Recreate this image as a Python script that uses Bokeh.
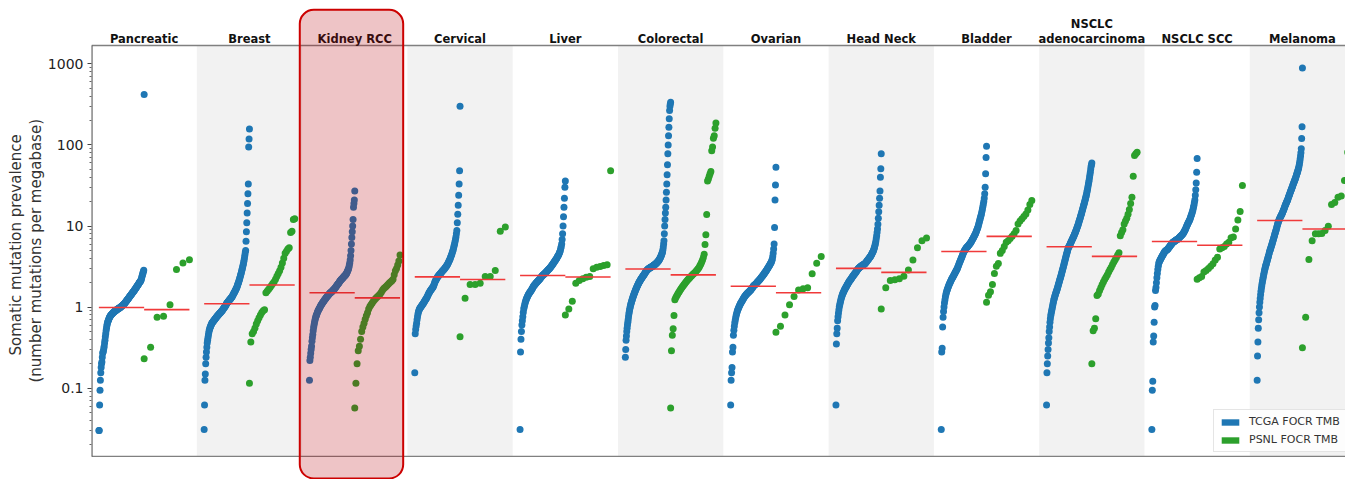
from bokeh.plotting import figure
from bokeh.models import (Range1d, FixedTicker, BoxAnnotation, Legend, LegendItem,
                          ColumnDataSource, CustomJSTickFormatter, Title)
from bokeh.core.properties import value
from bokeh.embed import file_html
from bokeh.resources import INLINE

categories = ["Pancreatic", "Breast", "Kidney RCC", "Cervical", "Liver", "Colorectal",
              "Ovarian", "Head Neck", "Bladder", "NSCLC\nadenocarcinoma", "NSCLC SCC", "Melanoma"]
highlight = "Kidney RCC"

tcga_pancreatic = [0.03, 0.03, 0.062, 0.094, 0.125, 0.155, 0.18, 0.2, 0.21, 0.24,
    0.27, 0.28, 0.29, 0.31, 0.33, 0.36, 0.39, 0.43, 0.47, 0.51,
    0.55, 0.59, 0.62, 0.65, 0.67, 0.69, 0.71, 0.73, 0.75, 0.76,
    0.78, 0.79, 0.80, 0.81, 0.82, 0.83, 0.84, 0.85, 0.86, 0.87,
    0.87, 0.88, 0.89, 0.90, 0.91, 0.91, 0.92, 0.93, 0.94, 0.94,
    0.95, 0.96, 0.96, 0.97, 0.98, 0.98, 0.99, 1.0, 1.01, 1.02,
    1.03, 1.04, 1.05, 1.06, 1.07, 1.08, 1.09, 1.10, 1.12, 1.13,
    1.15, 1.17, 1.18, 1.20, 1.22, 1.24, 1.25, 1.27, 1.29, 1.31,
    1.33, 1.35, 1.37, 1.39, 1.41, 1.43, 1.45, 1.47, 1.49, 1.52,
    1.54, 1.56, 1.58, 1.61, 1.63, 1.66, 1.68, 1.71, 1.74, 1.77,
    1.80, 1.83, 1.86, 1.89, 1.92, 1.95, 1.99, 2.02, 2.05, 2.09,
    2.12, 2.16, 2.25, 2.35, 2.45, 2.55, 2.65, 2.75, 2.85, 418]
psnl_pancreatic = [0.23, 0.32, 0.75, 0.77, 1.07, 2.9, 3.5, 3.85]

tcga_breast = [0.031, 0.062, 0.125, 0.15, 0.2, 0.24, 0.28, 0.32, 0.36, 0.39,
    0.42, 0.45, 0.48, 0.51, 0.53, 0.55, 0.57, 0.58, 0.60, 0.61,
    0.63, 0.64, 0.65, 0.66, 0.67, 0.68, 0.69, 0.70, 0.71, 0.72,
    0.73, 0.74, 0.75, 0.76, 0.77, 0.78, 0.79, 0.80, 0.81,
    0.82, 0.83, 0.84, 0.85, 0.86, 0.87, 0.88, 0.89, 0.90, 0.92,
    0.93, 0.95, 0.96, 0.98, 0.99, 1.01, 1.02, 1.04, 1.06, 1.08,
    1.11, 1.12, 1.14, 1.15, 1.17, 1.18, 1.20, 1.22, 1.23, 1.25,
    1.27, 1.28, 1.30, 1.32, 1.33, 1.36, 1.39, 1.42, 1.45, 1.48,
    1.51, 1.54, 1.57, 1.61, 1.64, 1.68, 1.72, 1.76, 1.82, 1.88,
    1.94, 2.0, 2.07, 2.14, 2.22, 2.3, 2.4, 2.5, 2.6, 2.7,
    2.85, 2.95, 3.1, 3.25, 3.4, 3.6, 3.8, 4.1, 4.4, 4.7,
    5.0, 6.5, 8.5, 11, 14.5, 19, 25, 33, 94, 118, 157]
psnl_breast = [0.115, 0.37, 0.47, 0.5, 0.55, 0.62, 0.68, 0.74, 0.8, 0.86,
    0.9, 0.93, 1.5, 1.58, 1.66, 1.75, 1.85, 1.95, 2.05, 2.2,
    2.4, 2.6, 2.8, 3.1, 3.5, 4.0, 4.6, 4.9, 5.2, 5.4,
    8.3, 8.6, 12, 12.3]

tcga_kidney = [0.125, 0.22, 0.24, 0.27, 0.30, 0.33, 0.38, 0.42, 0.46, 0.51,
    0.56, 0.60, 0.64, 0.68, 0.72, 0.75, 0.78, 0.80, 0.83, 0.86,
    0.88, 0.91, 0.93, 0.95, 0.97, 0.99, 1.02, 1.04, 1.06, 1.08,
    1.10, 1.12, 1.14, 1.16, 1.18, 1.20, 1.22, 1.24, 1.26, 1.28,
    1.30, 1.32, 1.34, 1.36, 1.38, 1.40, 1.42, 1.44, 1.46, 1.48,
    1.50, 1.51, 1.52, 1.54, 1.56, 1.58, 1.60, 1.62, 1.64, 1.66,
    1.68, 1.70, 1.73, 1.76, 1.79, 1.82, 1.85, 1.88, 1.91, 1.94,
    1.97, 2.0, 2.04, 2.08, 2.12, 2.15, 2.18, 2.20, 2.23, 2.26,
    2.29, 2.32, 2.35, 2.38, 2.41, 2.44, 2.47, 2.5, 2.55, 2.6,
    2.66, 2.72, 2.8, 2.88, 2.97, 3.1, 3.3, 3.5, 3.8, 4.3,
    5.0, 6.0, 7.2, 8.5, 10, 12, 17, 19, 21, 27]
psnl_kidney = [0.057, 0.115, 0.2, 0.29, 0.33, 0.4, 0.5, 0.57, 0.63, 0.71,
    0.78, 0.85, 0.95, 1.02, 1.07, 1.12, 1.18, 1.23, 1.28, 1.32,
    1.36, 1.41, 1.46, 1.54, 1.62, 1.69, 1.74, 1.8, 1.86, 1.93,
    2.0, 2.05, 2.12, 2.2, 2.5, 2.8, 3.0, 3.3, 3.7, 4.4]

tcga_cervical = [0.155, 0.47, 0.53, 0.58, 0.63, 0.7, 0.76, 0.82, 0.87, 0.91,
    0.94, 0.96, 0.98, 1.0, 1.02, 1.04, 1.06, 1.08, 1.1, 1.12,
    1.14, 1.17, 1.2, 1.22, 1.25, 1.27, 1.3, 1.33, 1.37, 1.41,
    1.45, 1.49, 1.53, 1.56, 1.59, 1.62, 1.65, 1.68, 1.71, 1.74,
    1.77, 1.82, 1.88, 1.96, 2.04, 2.1, 2.15, 2.2, 2.25, 2.3,
    2.37, 2.4, 2.44, 2.48, 2.52, 2.56, 2.6, 2.64, 2.68, 2.72,
    2.76, 2.8, 2.84, 2.88, 2.93, 2.98, 3.03, 3.08, 3.14, 3.2,
    3.26, 3.33, 3.4, 3.5, 3.6, 3.7, 3.8, 3.9, 4.05, 4.2,
    4.35, 4.5, 4.7, 4.9, 5.1, 5.4, 5.7, 6.0, 6.4, 6.8,
    7.3, 8.0, 8.8, 11, 14, 18, 24, 33, 48, 300]
psnl_cervical = [0.43, 1.29, 1.9, 1.9, 1.97, 2.38, 2.38, 2.83, 8.6, 9.7]

tcga_liver = [0.031, 0.28, 0.4, 0.5, 0.6, 0.68, 0.76, 0.86, 0.95, 1.0,
    1.06, 1.12, 1.17, 1.22, 1.27, 1.3, 1.34, 1.38, 1.42, 1.45,
    1.48, 1.51, 1.54, 1.57, 1.6, 1.63, 1.67, 1.71, 1.75, 1.79,
    1.83, 1.86, 1.89, 1.92, 1.95, 1.98, 2.01, 2.04, 2.07, 2.1,
    2.13, 2.16, 2.19, 2.22, 2.26, 2.3, 2.34, 2.38, 2.42, 2.45,
    2.48, 2.51, 2.54, 2.57, 2.6, 2.63, 2.67, 2.7, 2.74, 2.78,
    2.82, 2.86, 2.9, 2.94, 2.98, 3.03, 3.08, 3.13, 3.18, 3.24,
    3.3, 3.36, 3.42, 3.49, 3.56, 3.63, 3.7, 3.77, 3.85, 3.93,
    4.0, 4.1, 4.2, 4.3, 4.4, 4.5, 4.65, 4.8, 5.0, 5.3,
    5.6, 6.0, 6.8, 8.0, 10, 13, 17, 22, 30, 36]
psnl_liver = [0.80, 0.95, 1.18, 1.97, 2.13, 2.23, 2.34, 2.38, 2.97, 3.1, 3.17, 3.26, 3.32, 48]

tcga_colorectal = [0.24, 0.3, 0.39, 0.44, 0.5, 0.55, 0.6, 0.65, 0.7, 0.76,
    0.82, 0.87, 0.92, 0.97, 1.02, 1.06, 1.1, 1.14, 1.18, 1.22,
    1.26, 1.3, 1.34, 1.38, 1.42, 1.46, 1.5, 1.54, 1.58, 1.62,
    1.66, 1.7, 1.74, 1.78, 1.82, 1.86, 1.9, 1.94, 1.98, 2.02,
    2.05, 2.09, 2.13, 2.16, 2.2, 2.23, 2.27, 2.3, 2.34, 2.37,
    2.41, 2.44, 2.48, 2.51, 2.55, 2.59, 2.63, 2.67, 2.72, 2.76,
    2.8, 2.83, 2.86, 2.89, 2.92, 2.95, 2.97, 2.99, 3.01, 3.03,
    3.05, 3.07, 3.09, 3.11, 3.13, 3.15, 3.17, 3.19, 3.21, 3.24,
    3.26, 3.28, 3.3, 3.33, 3.36, 3.38, 3.41, 3.44, 3.47, 3.5,
    3.54, 3.58, 3.62, 3.67, 3.71, 3.76, 3.8, 3.88, 3.96, 4.04,
    4.12, 4.2, 4.3, 4.42, 4.54, 4.67, 4.8, 5.1, 5.5, 6.0,
    6.6, 8, 10, 12, 14.5, 17, 21, 26, 33, 43,
    57, 78, 100, 130, 165, 210, 265, 300, 320, 335]
psnl_colorectal = [0.057, 0.29, 0.45, 0.54, 0.79, 1.23, 1.3, 1.36, 1.42, 1.48,
    1.54, 1.6, 1.66, 1.72, 1.78, 1.84, 1.9, 1.96, 2.02, 2.08,
    2.14, 2.2, 2.26, 2.32, 2.38, 2.44, 2.5, 2.56, 2.62, 2.68,
    2.75, 2.82, 2.9, 3.0, 3.1, 3.25, 3.4, 3.6, 3.8, 4.1,
    4.5, 5.9, 7.8, 13.9, 36, 38, 41, 44, 47, 85,
    94, 121, 130, 160, 187]

tcga_ovarian = [0.062, 0.125, 0.155, 0.18, 0.28, 0.32, 0.45, 0.52, 0.58, 0.64,
    0.69, 0.74, 0.79, 0.83, 0.87, 0.91, 0.94, 0.97, 1.0, 1.03,
    1.06, 1.09, 1.12, 1.14, 1.17, 1.19, 1.22, 1.25, 1.28, 1.31,
    1.33, 1.36, 1.38, 1.41, 1.43, 1.45, 1.47, 1.49, 1.51, 1.53,
    1.55, 1.57, 1.59, 1.61, 1.63, 1.66, 1.69, 1.72, 1.75, 1.79,
    1.83, 1.85, 1.87, 1.89, 1.91, 1.93, 1.96, 1.99, 2.02, 2.05,
    2.08, 2.11, 2.14, 2.17, 2.2, 2.24, 2.28, 2.32, 2.36, 2.4,
    2.44, 2.48, 2.52, 2.57, 2.62, 2.67, 2.72, 2.77, 2.83, 2.89,
    2.95, 3.01, 3.07, 3.14, 3.21, 3.28, 3.36, 3.44, 3.52, 3.6,
    3.75, 3.9, 4.2, 4.6, 5.2, 6.0, 9.6, 21, 32, 53]
psnl_ovarian = [0.49, 0.58, 0.8, 1.07, 1.35, 1.63, 1.68, 1.73, 2.57, 3.47, 4.2]

tcga_headneck = [0.062, 0.35, 0.47, 0.55, 0.68, 0.76, 0.84, 0.92, 1.0, 1.06,
    1.12, 1.18, 1.24, 1.3, 1.35, 1.4, 1.45, 1.49, 1.53, 1.57,
    1.61, 1.65, 1.69, 1.72, 1.76, 1.8, 1.84, 1.88, 1.92, 1.96,
    2.0, 2.04, 2.08, 2.12, 2.15, 2.18, 2.22, 2.26, 2.3, 2.34,
    2.38, 2.42, 2.46, 2.5, 2.54, 2.57, 2.61, 2.65, 2.7, 2.75,
    2.8, 2.85, 2.9, 2.95, 3.0, 3.03, 3.06, 3.09, 3.12, 3.15,
    3.18, 3.21, 3.24, 3.27, 3.3, 3.32, 3.34, 3.36, 3.38, 3.4,
    3.45, 3.5, 3.55, 3.6, 3.66, 3.72, 3.78, 3.84, 3.9, 3.96,
    4.02, 4.08, 4.14, 4.2, 4.3, 4.4, 4.5, 4.6, 4.7, 4.8,
    4.95, 5.1, 5.3, 5.5, 5.8, 6.1, 6.5, 7.0, 7.6, 8.3,
    9.2, 10.5, 12.5, 15, 18, 22, 27, 40, 51, 78]
psnl_headneck = [0.95, 1.73, 2.13, 2.17, 2.23, 2.4, 2.87, 3.8, 5.4, 6.6, 7.1]

tcga_bladder = [0.031, 0.28, 0.31, 0.57, 0.75, 0.88, 1.0, 1.12, 1.22, 1.33,
    1.42, 1.5, 1.57, 1.64, 1.7, 1.76, 1.82, 1.88, 1.94, 2.0,
    2.06, 2.12, 2.18, 2.24, 2.29, 2.34, 2.39, 2.45, 2.51, 2.57,
    2.63, 2.7, 2.77, 2.84, 2.91, 2.97, 3.1, 3.2, 3.3, 3.42,
    3.54, 3.66, 3.78, 3.9, 4.02, 4.15, 4.3, 4.45, 4.6, 4.75,
    4.9, 5.0, 5.1, 5.2, 5.3, 5.4, 5.5, 5.55, 5.6, 5.7,
    5.8, 5.9, 6.0, 6.1, 6.2, 6.35, 6.5, 6.65, 6.8, 6.95,
    7.1, 7.3, 7.5, 7.7, 7.9, 8.1, 8.4, 8.7, 9.0, 9.3,
    9.6, 10.1, 10.6, 11.1, 11.7, 12.3, 12.9, 13.5, 14.3, 15.2,
    16.2, 17.4, 18.7, 20, 22, 25, 30, 44, 70, 96]
psnl_bladder = [1.15, 1.4, 1.55, 1.9, 2.6, 3.2, 3.45, 4.6, 5.0, 5.6, 6.3, 6.6,
    7.0, 7.5, 8.0, 8.8, 10.6, 11.5, 12.3, 13.1, 14.1, 15.8, 18.4, 20.6]

tcga_nsclc_adeno = [0.062, 0.155, 0.2, 0.25, 0.3, 0.36, 0.42, 0.5, 0.57, 0.65,
    0.72, 0.78, 0.83, 0.88, 0.93, 0.98, 1.04, 1.1, 1.16, 1.22,
    1.27, 1.32, 1.37, 1.42, 1.47, 1.52, 1.57, 1.62, 1.67, 1.74,
    1.81, 1.88, 1.95, 2.03, 2.11, 2.19, 2.27, 2.35, 2.45, 2.55,
    2.65, 2.76, 2.88, 3.0, 3.13, 3.26, 3.4, 3.55, 3.7, 3.86,
    4.03, 4.2, 4.38, 4.57, 4.76, 4.95, 5.15, 5.35, 5.5, 5.6,
    5.7, 5.85, 6.0, 6.15, 6.3, 6.45, 6.6, 6.75, 6.9, 7.05,
    7.2, 7.4, 7.6, 7.8, 8.0, 8.2, 8.45, 8.7, 8.95, 9.2,
    9.5, 9.8, 10.1, 10.4, 10.8, 11.2, 11.6, 12.0, 12.4, 12.9,
    13.4, 13.9, 14.4, 15.0, 15.6, 16.2, 16.9, 17.6, 18.3, 19.0,
    19.8, 20.6, 21.5, 22.5, 23.5, 24.6, 26, 27.5, 29, 31,
    33, 35, 37, 40, 43, 46, 50, 54, 57, 60]
psnl_nsclc_adeno = [0.2, 0.51, 0.55, 0.72, 1.39, 1.45, 1.6, 1.75, 1.9, 2.05,
    2.2, 2.35, 2.5, 2.7, 2.9, 3.1, 3.35, 3.6, 3.85, 4.1,
    4.4, 4.67, 7.6, 8.3, 9.0, 10.6, 11.5, 12.5, 14, 16,
    19, 22.6, 41, 74, 78, 81]

tcga_nsclc_scc = [0.031, 0.094, 0.122, 0.37, 0.44, 0.65, 1.0, 1.05, 1.6, 1.75,
    2.0, 2.3, 2.6, 2.9, 3.2, 3.45, 3.6, 3.7, 3.8, 3.9,
    4.0, 4.1, 4.2, 4.3, 4.4, 4.5, 4.6, 4.7, 4.8, 4.9,
    4.95, 5.0, 5.05, 5.1, 5.15, 5.2, 5.3, 5.4, 5.5, 5.6,
    5.7, 5.8, 5.9, 6.0, 6.1, 6.2, 6.3, 6.35, 6.4, 6.45,
    6.55, 6.6, 6.65, 6.7, 6.75, 6.8, 6.85, 6.9, 7.0, 7.1,
    7.2, 7.3, 7.4, 7.5, 7.6, 7.7, 7.8, 7.9, 8.0, 8.2,
    8.4, 8.6, 8.8, 9.0, 9.3, 9.6, 9.9, 10.2, 10.5, 10.8,
    11.1, 11.4, 11.7, 12.0, 12.5, 13.0, 13.5, 14.0, 14.6, 15.2,
    16.0, 17.0, 18.0, 19.5, 21, 24, 28, 34, 46, 68]
psnl_nsclc_scc = [2.2, 2.3, 2.38, 2.7, 2.83, 3.0, 3.2, 3.42, 3.8, 4.13,
    5.2, 5.4, 5.6, 6.0, 6.3, 7.15, 7.3, 9.2, 11.9, 15.1, 31.6]

tcga_melanoma = [0.125, 0.25, 0.37, 0.55, 0.7, 0.85, 1.0, 1.15, 1.28, 1.42,
    1.57, 1.7, 1.82, 1.95, 2.08, 2.2, 2.34, 2.48, 2.62, 2.76,
    2.9, 3.04, 3.18, 3.3, 3.4, 3.55, 3.7, 3.85, 4.0, 4.15,
    4.3, 4.5, 4.7, 4.9, 5.05, 5.2, 5.4, 5.6, 5.8, 6.0,
    6.2, 6.45, 6.7, 6.95, 7.2, 7.5, 7.8, 8.1, 8.4, 8.7,
    9.0, 9.4, 9.8, 10.2, 10.6, 11.0, 11.4, 11.7, 12.0, 12.3,
    12.6, 12.9, 13.2, 13.5, 13.8, 14.1, 14.4, 14.8, 15.2, 15.6,
    16.0, 16.5, 17.0, 17.5, 18.0, 18.5, 19.0, 19.5, 20.0, 20.5,
    21.0, 21.7, 22.4, 23.1, 23.8, 24.5, 25.2, 26, 26.8, 27.6,
    28.4, 29.2, 30, 31, 32, 33, 34, 35, 36, 37,
    38, 39, 40.5, 42, 43.5, 45, 46.5, 48, 50, 52,
    55, 58, 62, 67, 73, 80, 90, 120, 168, 890]
psnl_melanoma = [0.315, 0.75, 3.86, 6.6, 8.0, 8.0, 8.1, 8.8, 9.9, 18.4, 19.5, 22.6, 23.5, 36.4, 81]

tcga_series = [tcga_pancreatic, tcga_breast, tcga_kidney, tcga_cervical, tcga_liver,
               tcga_colorectal, tcga_ovarian, tcga_headneck, tcga_bladder,
               tcga_nsclc_adeno, tcga_nsclc_scc, tcga_melanoma]
psnl_series = [psnl_pancreatic, psnl_breast, psnl_kidney, psnl_cervical, psnl_liver,
               psnl_colorectal, psnl_ovarian, psnl_headneck, psnl_bladder,
               psnl_nsclc_adeno, psnl_nsclc_scc, psnl_melanoma]
tcga_median = [0.99, 1.1, 1.5, 2.36, 2.45, 2.95, 1.81, 3.0, 4.85, 5.55, 6.45, 11.7]
psnl_median = [0.93, 1.87, 1.3, 2.19, 2.35, 2.5, 1.5, 2.68, 7.45, 4.22, 5.8, 9.2]

y_visible = (0.01439, 1683)          # the axes box of the original chart
legend_labels = ["TCGA FOCR TMB", "PSNL FOCR TMB"]
y_label_lines = ["Somatic mutation prevalence", "(number mutations per megabase)"]

BLUE = "#1f77b4"
GREEN = "#2ca02c"
RED = "#f03a3a"
SPINE = "#808080"
HALF = 0.43
X_END = 11.409
FONT = "DejaVu Sans"

# The frame covers the whole canvas height so that the highlight box can reach above
# and below the axes box; the axes box itself is drawn with spine segments.
p = figure(width=1345, height=479,
           x_range=Range1d(-0.5, X_END), y_range=Range1d(10 ** -2.126, 10 ** 3.781),
           y_axis_type="log", x_axis_location=None,
           output_backend="svg", toolbar_location=None,
           min_border_left=91, min_border_right=0, min_border_top=0, min_border_bottom=0)
p.xgrid.visible = False
p.ygrid.visible = False
p.outline_line_color = None
p.background_fill_color = "white"
p.border_fill_color = "white"

idx = list(range(len(categories)))

# alternating background bands inside the axes box
band_left = [i - 0.5 for i in idx if i % 2 == 1]
band_right = [i + 0.5 for i in idx if i % 2 == 1]
p.quad(left=band_left, right=band_right, bottom=y_visible[0], top=y_visible[1],
       fill_color="#f2f2f2", line_color=None)

# spines of the axes box
p.segment(x0=[-0.5, -0.5], x1=[X_END, X_END], y0=list(y_visible), y1=list(y_visible),
          line_color=SPINE, line_width=1.3)
p.segment(x0=[-0.5], x1=[-0.5], y0=[y_visible[0]], y1=[y_visible[1]],
          line_color="#5a5a5a", line_width=2.2)

# strip points, ordered by value within each group
def strip(series, offset0):
    xs, ys = [], []
    for i, vals in enumerate(series):
        n = len(vals)
        for k, v in enumerate(vals):
            xs.append(i + offset0 + HALF * k / (n - 1))
            ys.append(v)
    return ColumnDataSource(dict(x=xs, y=ys))

p.scatter("x", "y", source=strip(tcga_series, -HALF), size=7, fill_color=BLUE, line_color=None)
p.scatter("x", "y", source=strip(psnl_series, 0.0), size=7, fill_color=GREEN, line_color=None)

# median lines
p.segment(x0=[i - HALF for i in idx], x1=idx, y0=tcga_median, y1=tcga_median,
          line_color=RED, line_width=1.6)
p.segment(x0=idx, x1=[i + HALF for i in idx], y0=psnl_median, y1=psnl_median,
          line_color=RED, line_width=1.6)

# category titles above the axes box
p.text(x=idx, y=[y_visible[1]] * len(idx), text=categories, y_offset=1,
       text_align="center", text_baseline="bottom", text_font=value(FONT),
       text_font_size="11.5px", text_font_style="bold", text_color="#111111",
       text_line_height=1.1)

# legend with patch entries (proxies placed off the visible area)
r_t = p.quad(left=[-3], right=[-2], bottom=[1], top=[2], fill_color=BLUE, line_color=None)
r_p = p.quad(left=[-3], right=[-2], bottom=[1], top=[2], fill_color=GREEN, line_color=None)
legend = Legend(items=[LegendItem(label=legend_labels[0], renderers=[r_t]),
                       LegendItem(label=legend_labels[1], renderers=[r_p])],
                location=(1122, 27), margin=0, padding=5, spacing=5,
                glyph_width=22, glyph_height=8, label_height=12, label_standoff=8,
                label_text_font=FONT, label_text_font_size="11px",
                label_text_color="#333333", border_line_color="#cccccc",
                background_fill_alpha=0.85)
p.add_layout(legend, "center")

# y axis
minor = [k * 10.0 ** d for d in range(-2, 4) for k in range(2, 10)
         if y_visible[0] <= k * 10.0 ** d <= y_visible[1]]
p.yaxis.ticker = FixedTicker(ticks=[0.1, 1, 10, 100, 1000], minor_ticks=minor)
p.yaxis.formatter = CustomJSTickFormatter(code="return String(tick);")
p.yaxis.axis_line_color = None
p.yaxis.major_tick_line_color = "#444444"
p.yaxis.minor_tick_line_color = "#666666"
p.yaxis.major_tick_out = 4
p.yaxis.major_tick_in = 0
p.yaxis.minor_tick_out = 2
p.yaxis.minor_tick_in = 0
p.yaxis.major_label_standoff = 4
p.yaxis.major_label_text_font = FONT
p.yaxis.major_label_text_font_size = "14px"
p.yaxis.major_label_text_color = "#222222"

# two-line y label, centred on the axes box (which is not the whole frame)
for line, off in ((y_label_lines[1], 97), (y_label_lines[0], 124)):
    p.add_layout(Title(text=line, align="left", offset=off, standoff=0,
                       text_font=FONT, text_font_size="15px", text_line_height=0.95,
                       text_font_style="normal", text_color="#333333"), "left")

# highlight box around the selected category
h = categories.index(highlight)
box = BoxAnnotation(left=h - 0.522, right=h + 0.46, top=10 ** 3.666, bottom=10 ** -2.113,
                    fill_color="#b4000a", fill_alpha=0.23, line_color="#cc0000",
                    line_alpha=1.0, line_width=2, border_radius=14)
p.add_layout(box)

open("out.html", "w").write(file_html(p, INLINE))
